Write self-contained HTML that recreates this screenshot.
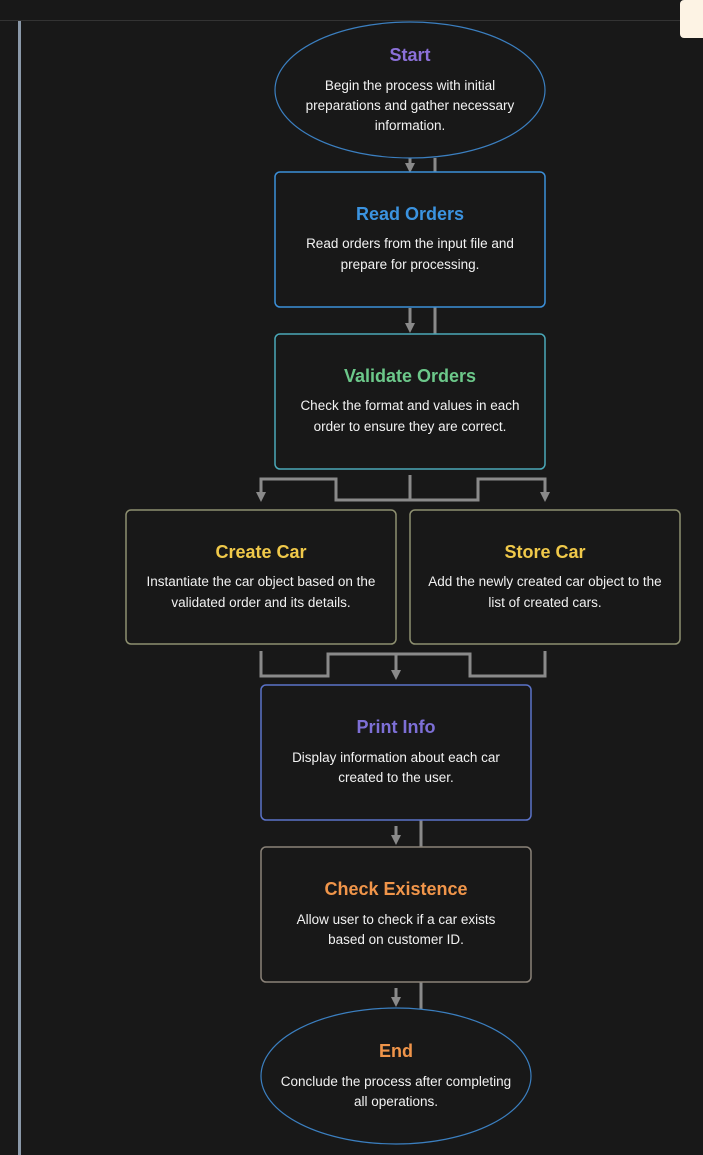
<!DOCTYPE html>
<html><head><meta charset="utf-8"><style>
html,body{margin:0;padding:0;background:#181818;width:703px;height:1155px;overflow:hidden}
svg{display:block}
text{font-family:"Liberation Sans",Arial,sans-serif}
.t{font-size:18px;font-weight:bold;text-anchor:middle}
.b{font-size:13.5px;fill:#f2f2f2;text-anchor:middle}
.c{stroke:#8a8a8a;stroke-width:3;fill:none}
</style></head><body>
<svg width="703" height="1155" viewBox="0 0 703 1155" xmlns="http://www.w3.org/2000/svg">
<defs><marker id="a" markerWidth="10" markerHeight="10" refX="5" refY="5" orient="auto" markerUnits="userSpaceOnUse"><path d="M0,0 L10,5 L0,10 z" fill="#8a8a8a"/></marker></defs>
<rect width="703" height="1155" fill="#181818"/>
<line x1="0" y1="20.5" x2="703" y2="20.5" stroke="#333" stroke-width="1"/>
<rect x="18" y="21" width="3" height="1134" fill="#8a98a8"/>
<rect x="680" y="0" width="30" height="38" rx="4" fill="#fdf3e4"/>
<line class="c" x1="410" y1="158" x2="410" y2="168" marker-end="url(#a)"/>
<line class="c" x1="435" y1="158" x2="435" y2="172"/>
<line class="c" x1="410" y1="308" x2="410" y2="328" marker-end="url(#a)"/>
<line class="c" x1="435" y1="307" x2="435" y2="334"/>
<polyline class="c" points="410,475 410,500 336,500 336,479 261,479 261,497" marker-end="url(#a)"/>
<polyline class="c" points="410,500 478,500 478,479 545,479 545,497" marker-end="url(#a)"/>
<polyline class="c" points="261,651 261,676 328,676 328,654 470,654 470,676 545,676 545,651"/>
<line class="c" x1="396" y1="654" x2="396" y2="675" marker-end="url(#a)"/>
<line class="c" x1="396" y1="826" x2="396" y2="840" marker-end="url(#a)"/>
<line class="c" x1="421" y1="820" x2="421" y2="847"/>
<line class="c" x1="396" y1="988" x2="396" y2="1002" marker-end="url(#a)"/>
<line class="c" x1="421" y1="982" x2="421" y2="1010"/>

<ellipse cx="410" cy="90" rx="135" ry="68" fill="#181818" stroke="#3b7fc0" stroke-width="1.2"/>
<text class="t" x="410" y="61" fill="#8b70d8">Start</text>
<text class="b" x="410" y="90">Begin the process with initial</text>
<text class="b" x="410" y="110">preparations and gather necessary</text>
<text class="b" x="410" y="130">information.</text>

<rect x="275" y="172" width="270" height="135" rx="5" fill="#181818" stroke="#3b8fd8" stroke-width="1.5"/>
<text class="t" x="410" y="220" fill="#3b93e0">Read Orders</text>
<text class="b" x="410" y="248">Read orders from the input file and</text>
<text class="b" x="410" y="269">prepare for processing.</text>

<rect x="275" y="334" width="270" height="135" rx="5" fill="#181818" stroke="#4aa8b8" stroke-width="1.5"/>
<text class="t" x="410" y="382" fill="#6cc88a">Validate Orders</text>
<text class="b" x="410" y="410">Check the format and values in each</text>
<text class="b" x="410" y="431">order to ensure they are correct.</text>

<rect x="126" y="510" width="270" height="134" rx="5" fill="#181818" stroke="#8e9070" stroke-width="1.5"/>
<text class="t" x="261" y="558" fill="#f0c94a">Create Car</text>
<text class="b" x="261" y="586">Instantiate the car object based on the</text>
<text class="b" x="261" y="607">validated order and its details.</text>

<rect x="410" y="510" width="270" height="134" rx="5" fill="#181818" stroke="#8e9070" stroke-width="1.5"/>
<text class="t" x="545" y="558" fill="#f0c94a">Store Car</text>
<text class="b" x="545" y="586">Add the newly created car object to the</text>
<text class="b" x="545" y="607">list of created cars.</text>

<rect x="261" y="685" width="270" height="135" rx="5" fill="#181818" stroke="#5a72c8" stroke-width="1.5"/>
<text class="t" x="396" y="733" fill="#7d6fd6">Print Info</text>
<text class="b" x="396" y="762">Display information about each car</text>
<text class="b" x="396" y="782">created to the user.</text>

<rect x="261" y="847" width="270" height="135" rx="5" fill="#181818" stroke="#8a8278" stroke-width="1.5"/>
<text class="t" x="396" y="895" fill="#f0954a">Check Existence</text>
<text class="b" x="396" y="924">Allow user to check if a car exists</text>
<text class="b" x="396" y="944">based on customer ID.</text>

<ellipse cx="396" cy="1076" rx="135" ry="68" fill="#181818" stroke="#3b7fc0" stroke-width="1.2"/>
<text class="t" x="396" y="1057" fill="#f0954a">End</text>
<text class="b" x="396" y="1086">Conclude the process after completing</text>
<text class="b" x="396" y="1106">all operations.</text>
</svg>
</body></html>
